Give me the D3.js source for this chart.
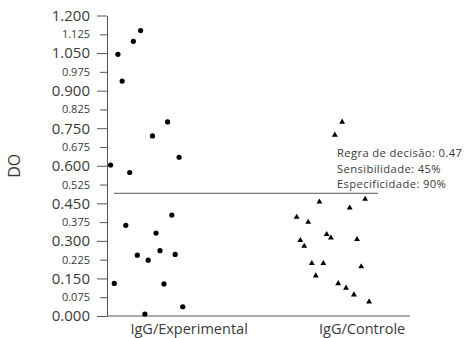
<!DOCTYPE html>
<html>
<head>
<meta charset="utf-8">
<script src="https://cdn.jsdelivr.net/npm/d3@7"></script>
<style>
  body { margin: 0; background: #fff; }
  text { font-family: "Open Sans", "Noto Sans", sans-serif; fill: #3a3a3a; }
</style>
</head>
<body>
<div id="chart"></div>
<script>
// values
const groups = ["IgG/Experimental", "IgG/Controle"];
const groupPos = [27.1, 84.2];      // label centre on the 0-100 jitter axis

// experimental group (dots): jitter x, DO value
const expX = [11.1, 8.7, 3.6, 5.0, 20.0, 15.0, 23.8, 1.2, 7.5, 21.4,
              6.2, 16.2, 10.0, 17.5, 22.5, 13.6, 2.4, 18.8, 25.0, 12.5];
const expY = [1.140, 1.097, 1.045, 0.938, 0.775, 0.719, 0.634, 0.603, 0.573, 0.403,
              0.362, 0.331, 0.243, 0.261, 0.246, 0.223, 0.130, 0.128, 0.037, 0.008];

// control group (triangles)
const ctlX = [77.6, 75.2, 85.2, 70.1, 80.1, 62.6, 66.4, 72.5, 73.9, 82.5,
              63.8, 65.1, 67.6, 71.4, 83.9, 68.9, 76.3, 78.9, 81.5, 86.5];
const ctlY = [0.775, 0.723, 0.467, 0.456, 0.432, 0.395, 0.375, 0.326, 0.312, 0.306,
              0.302, 0.279, 0.210, 0.210, 0.197, 0.161, 0.130, 0.112, 0.085, 0.057];

const yTicks = [0, 0.075, 0.15, 0.225, 0.3, 0.375, 0.45, 0.525, 0.6, 0.675,
                0.75, 0.825, 0.9, 0.975, 1.05, 1.125, 1.2];
const cutLine = 0.49;               // where the line sits in the figure
const cutSpan = [2.3, 89.4];        // its horizontal extent on the jitter axis
const notes = ["Regra de decisão: 0.47", "Sensibilidade: 45%", "Especificidade: 90%"];

const width = 465, height = 338;
const margin = { left: 107, right: 55, top: 15.5, bottom: 22 };

const svg = d3.select("#chart").append("svg")
    .attr("width", width)
    .attr("height", height);

const x = d3.scaleLinear()
    .domain([0, 100])
    .range([margin.left, width - margin.right]);
const y = d3.scaleLinear()
    .domain([0, 1.2])
    .range([height - margin.bottom, margin.top]);

// y axis, alternating big / small labels
const yAxis = svg.append("g")
    .attr("transform", `translate(${margin.left},0)`)
    .call(d3.axisLeft(y)
        .tickValues(yTicks)
        .tickFormat(d3.format(".3f"))
        .tickSizeOuter(0));
yAxis.select(".domain").attr("stroke", "#555");
yAxis.selectAll(".tick line")
    .attr("stroke", "#555")
    .attr("x2", (d, i) => i % 2 === 0 ? -10 : -7);
yAxis.selectAll(".tick text")
    .attr("x", -17)
    .style("font-size", (d, i) => i % 2 === 0 ? "15px" : "11px")
    .attr("fill", "#3a3a3a");

// bottom baseline
svg.append("line")
    .attr("x1", x(0)).attr("x2", x(100))
    .attr("y1", y(0)).attr("y2", y(0))
    .attr("stroke", "#555");

// category labels
svg.selectAll(".glabel")
    .data(groups)
    .enter()
    .append("text")
    .attr("class", "glabel")
    .attr("x", (d, i) => x(groupPos[i]))
    .attr("y", height - 4)
    .attr("text-anchor", "middle")
    .style("font-size", "14.5px")
    .text(d => d);

// y title
svg.append("text")
    .attr("transform", `translate(20,${y(0.6)}) rotate(-90)`)
    .attr("text-anchor", "middle")
    .style("font-size", "16px")
    .text("DO");

// decision line
svg.append("line")
    .attr("x1", x(cutSpan[0])).attr("x2", x(cutSpan[1]))
    .attr("y1", y(cutLine)).attr("y2", y(cutLine))
    .attr("stroke", "#555")
    .attr("stroke-width", 1);

// notes above the line
svg.selectAll(".note")
    .data(notes)
    .enter()
    .append("text")
    .attr("class", "note")
    .attr("x", x(75.9))
    .attr("y", (d, i) => y(cutLine) - 36 + i * 15.4)
    .style("font-size", "11.2px")
    .style("letter-spacing", "0.4px")
    .text(d => d);

// experimental dots
svg.selectAll(".dot")
    .data(expY)
    .enter()
    .append("circle")
    .attr("class", "dot")
    .attr("cx", (d, i) => x(expX[i]))
    .attr("cy", d => y(d))
    .attr("r", 2.6)
    .attr("fill", "#000");

// control triangles
const tri = d3.symbol().type(d3.symbolTriangle).size(15);
svg.selectAll(".tri")
    .data(ctlY)
    .enter()
    .append("path")
    .attr("class", "tri")
    .attr("transform", (d, i) => `translate(${x(ctlX[i])},${y(d)})`)
    .attr("d", tri)
    .attr("fill", "#000");
</script>
</body>
</html>
